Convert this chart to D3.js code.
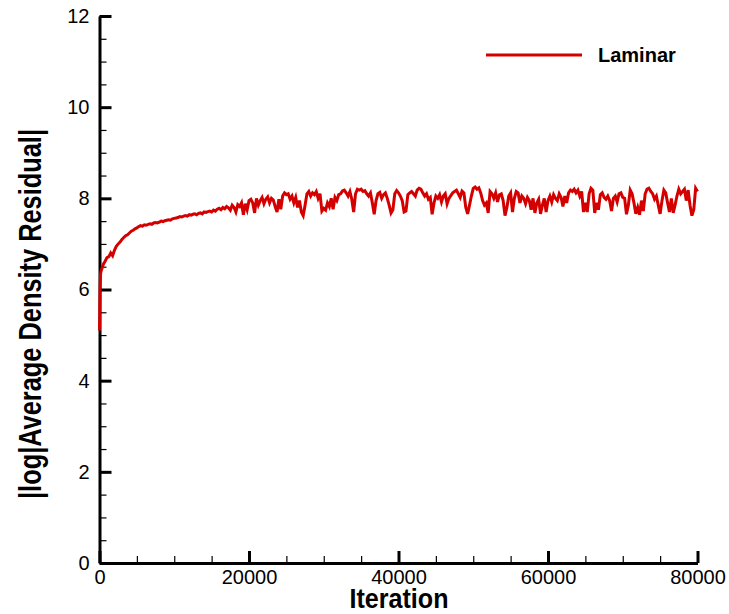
<!DOCTYPE html>
<html>
<head>
<meta charset="utf-8">
<script src="https://cdn.jsdelivr.net/npm/d3@7"></script>
<style>
  body { margin: 0; background: #fff; }
  svg { font-family: "Liberation Sans", Arial, sans-serif; }
</style>
</head>
<body>
<div id="chart"></div>
<script>
// first few iterations (steep start)
var startIter = [0, 60, 120, 180];
var startVal = [5.1, 5.9, 6.3, 6.38];

// residual every 250 iterations from 250 to 80000
var residual = [
  6.42, 6.55, 6.62, 6.7, 6.72, 6.8, 6.74, 6.86, 6.95, 7.0, 7.04, 7.1, 7.14, 7.18, 7.2, 7.24, 7.28, 7.3, 7.33, 7.35,
  7.38, 7.4, 7.39, 7.42, 7.41, 7.43, 7.44, 7.43, 7.46, 7.47, 7.46, 7.48, 7.5, 7.49, 7.51, 7.52, 7.53, 7.52, 7.55, 7.56,
  7.57, 7.58, 7.6, 7.59, 7.61, 7.62, 7.61, 7.64, 7.63, 7.65, 7.66, 7.64, 7.67, 7.68, 7.66, 7.7, 7.69, 7.71, 7.72, 7.7,
  7.74, 7.72, 7.76, 7.78, 7.75, 7.8, 7.77, 7.82, 7.79, 7.74, 7.85, 7.8, 7.7, 7.86, 7.82, 7.9, 7.64, 7.88, 7.75, 7.95,
  7.98, 7.9, 7.68, 8.0, 7.85, 7.95, 8.02, 7.88, 7.98, 8.03, 7.9, 8.0, 7.96, 7.82, 7.7, 7.98, 7.76, 8.05, 8.12, 8.08,
  8.1, 7.98, 8.05, 7.9, 8.02, 7.8, 7.95, 7.7, 7.62, 7.85, 8.1, 8.15, 8.05, 8.12, 8.08, 8.15, 8.0, 8.1, 7.72, 7.78,
  7.74, 7.9, 7.82, 8.0, 7.76, 8.02, 7.95, 8.08, 8.1, 8.16, 8.18, 8.12, 8.05, 8.15, 7.98, 7.7, 8.1, 8.2, 8.18, 8.2,
  8.15, 8.17, 8.1, 8.05, 8.12, 7.9, 7.65, 7.95, 8.1, 8.13, 8.0, 8.08, 8.12, 8.0, 7.85, 7.68, 7.75, 8.1, 8.17, 8.12,
  8.05, 7.95, 7.7, 7.72, 8.08, 8.12, 8.15, 8.1, 8.05, 8.18, 8.22, 8.2, 8.12, 8.05, 8.1, 7.98, 8.02, 7.65, 7.9, 8.05,
  8.0, 8.08, 7.92, 8.05, 8.1, 7.88, 8.0, 8.06, 8.12, 8.15, 8.18, 8.1, 8.02, 8.16, 8.12, 7.8, 7.66, 7.85, 8.05, 8.22,
  8.25, 8.2, 8.23, 8.12, 7.95, 7.85, 7.9, 7.68, 8.15, 8.1, 8.0, 8.12, 7.92, 8.08, 8.1, 7.95, 7.62, 7.8, 8.05, 8.12,
  7.7, 8.0, 8.15, 8.12, 7.9, 8.05, 8.0, 7.88, 8.02, 7.95, 7.75, 8.0, 7.68, 7.9, 7.98, 7.66, 7.85, 8.0, 7.7, 7.95,
  8.05, 7.92, 8.08, 8.0, 7.95, 8.1, 8.02, 7.82, 8.05, 7.9, 8.12, 8.18, 8.15, 8.2, 8.12, 8.18, 8.05, 8.15, 7.7, 7.9,
  7.7, 8.1, 8.22, 8.18, 7.68, 7.9, 7.75, 8.08, 8.12, 8.02, 7.98, 8.05, 7.95, 7.72, 8.0, 8.05, 7.92, 8.1, 8.12, 8.02,
  8.0, 7.65, 7.85, 8.18, 8.1, 7.9, 7.66, 7.8, 7.64, 7.95, 7.72, 8.1, 8.2, 8.22, 8.15, 8.1, 7.98, 8.05, 7.85, 7.66,
  7.95, 8.18, 8.12, 7.9, 7.7, 8.0, 7.68, 7.85, 8.05, 8.2, 8.1, 8.15, 8.2, 7.95, 8.18, 7.85, 7.62, 7.75, 8.22, 8.15
];
var iterStep = 250;

var xTicks = [0, 20000, 40000, 60000, 80000];
var yTicks = [0, 2, 4, 6, 8, 10, 12];
var seriesName = "Laminar";

var width = 729, height = 614;
var red = "#d40000";

var svg = d3.select("#chart").append("svg")
    .attr("width", width)
    .attr("height", height);

var x = d3.scaleLinear().domain([0, 80000]).range([99.5, 697.5]);
var y = d3.scaleLinear().domain([0, 12]).range([563, 16]);

var data = startIter.map(function(it, i) { return [it, startVal[i]]; });
residual.forEach(function(v, i) { data.push([(i + 1) * iterStep, v]); });

// minor ticks first, then major axes on top
svg.append("g")
    .attr("transform", "translate(0,563)")
    .call(d3.axisBottom(x).tickValues(d3.range(0, 80001, 5000)).tickSize(-7).tickFormat(""))
    .call(function(g) { g.select(".domain").remove(); })
    .selectAll("line").attr("stroke-width", 1.2);

svg.append("g")
    .attr("transform", "translate(99.5,0)")
    .call(d3.axisLeft(y).tickValues(d3.range(0, 12.01, 0.5)).tickSize(-7).tickFormat(""))
    .call(function(g) { g.select(".domain").remove(); })
    .selectAll("line").attr("stroke-width", 1.2);

var xAxis = svg.append("g")
    .attr("transform", "translate(0,563)")
    .call(d3.axisBottom(x).tickValues(xTicks).tickFormat(d3.format("d"))
        .tickSize(-12).tickSizeOuter(0).tickPadding(7));
xAxis.select(".domain").attr("stroke-width", 3);
xAxis.selectAll(".tick line").attr("stroke-width", 3);
xAxis.selectAll("text").attr("font-size", 20).attr("fill", "#000")
    .attr("font-family", "Liberation Sans, Arial, sans-serif");

var yAxis = svg.append("g")
    .attr("transform", "translate(99.5,0)")
    .call(d3.axisLeft(y).tickValues(yTicks).tickFormat(d3.format("d"))
        .tickSize(-12).tickSizeOuter(0).tickPadding(10));
yAxis.select(".domain").attr("stroke-width", 3);
yAxis.selectAll(".tick line").attr("stroke-width", 3);
yAxis.selectAll("text").attr("font-size", 20).attr("fill", "#000")
    .attr("font-family", "Liberation Sans, Arial, sans-serif");

// the residual line
var line = d3.line()
    .x(function(d) { return x(d[0]); })
    .y(function(d) { return y(d[1]); });

svg.append("path")
    .datum(data)
    .attr("fill", "none")
    .attr("stroke", red)
    .attr("stroke-width", 3)
    .attr("d", line);

// axis titles (the source font is tall and narrow, so stretch to measured width)
svg.append("text")
    .attr("x", 399)
    .attr("y", 608)
    .attr("text-anchor", "middle")
    .attr("font-size", 27)
    .attr("font-weight", "bold")
    .attr("textLength", 99)
    .attr("lengthAdjust", "spacingAndGlyphs")
    .text("Iteration");

svg.append("text")
    .attr("transform", "translate(41,314)rotate(-90)")
    .attr("text-anchor", "middle")
    .attr("font-size", 31)
    .attr("font-weight", "bold")
    .attr("textLength", 370)
    .attr("lengthAdjust", "spacingAndGlyphs")
    .text("|log|Average Density Residual|");

// legend
svg.append("line")
    .attr("x1", 486).attr("x2", 582)
    .attr("y1", 55).attr("y2", 55)
    .attr("stroke", red)
    .attr("stroke-width", 3);

svg.append("text")
    .attr("x", 598)
    .attr("y", 62)
    .attr("font-size", 20)
    .attr("font-weight", "bold")
    .text(seriesName);
</script>
</body>
</html>
